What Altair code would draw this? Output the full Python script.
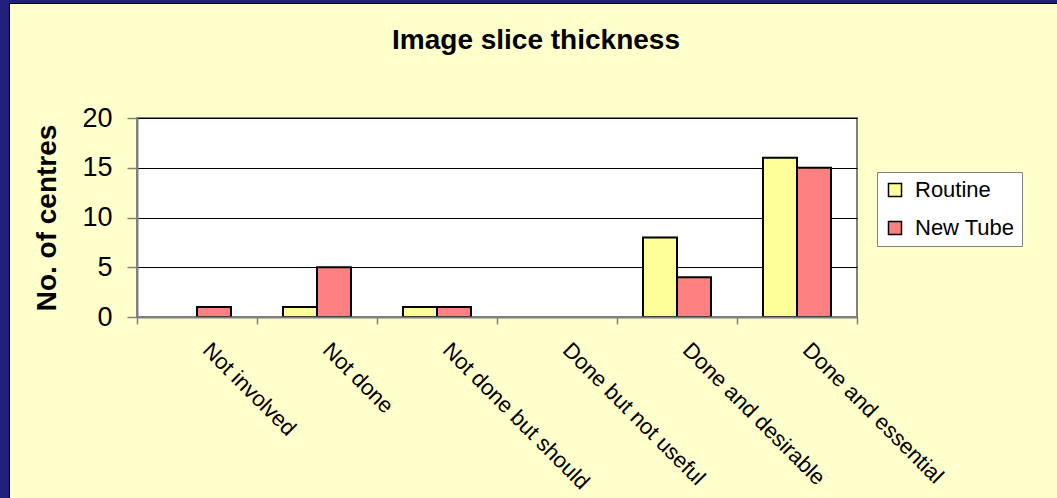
import altair as alt
import pandas as pd

categories = ["Not involved", "Not done", "Not done but should",
              "Done but not useful", "Done and desirable", "Done and essential"]
routine = [0, 1, 1, 0, 8, 16]
new_tube = [1, 5, 1, 0, 4, 15]
series = ["Routine", "New Tube"]
colors = ["#FFFF99", "#FF8080"]
y_ticks = [0, 5, 10, 15, 20]
title_text = "Image slice thickness"
y_title = "No. of centres"

rows = []
for c, r, n in zip(categories, routine, new_tube):
    rows.append({"category": c, "series": series[0], "value": r})
    rows.append({"category": c, "series": series[1], "value": n})
df = pd.DataFrame(rows)

W, H = 720, 199
PL, PT = 137, 118
CW, CH = 1057, 498
FONT = "Liberation Sans"
NAVY = "#20207A"

bars = alt.Chart(df).transform_filter("datum.value > 0").mark_bar(
    stroke="black", strokeWidth=2, opacity=1
).encode(
    x=alt.X("category:N", sort=categories,
            scale=alt.Scale(domain=categories, paddingInner=0, paddingOuter=0),
            axis=alt.Axis(title=None, labelAngle=45, labelAlign="left", labelBaseline="top",
                          labelFontSize=22, labelFont=FONT, labelColor="black",
                          labelOffset=16, labelPadding=15, labelLimit=0, labelOverlap=False,
                          tickSize=7, tickColor="#808080", tickWidth=1.5, tickBand="extent",
                          domainColor="#808080", domainWidth=2, grid=False, zindex=1)),
    xOffset=alt.XOffset("series:N", sort=series,
                        scale=alt.Scale(domain=series, paddingInner=0, paddingOuter=0.765)),
    y=alt.Y("value:Q", scale=alt.Scale(domain=[0, 20], nice=False),
            axis=alt.Axis(values=y_ticks, title=y_title, titleFontSize=28, titleFont=FONT,
                          titleFontWeight="bold", titleColor="black", titleX=-90, titleY=99.5,
                          titleAngle=270, titleAlign="center", titleBaseline="middle",
                          labelFontSize=27, labelFont=FONT, labelColor="black", labelPadding=15,
                          tickSize=10, tickColor="#808080", tickWidth=1.5,
                          domainColor="#808080", domainWidth=2,
                          grid=True, gridColor="black", gridWidth=1)),
    color=alt.Color("series:N", sort=series,
                    scale=alt.Scale(domain=series, range=colors),
                    legend=alt.Legend(title=None, orient="none", legendX=740, legendY=54,
                                      fillColor="white", strokeColor="#808080",
                                      padding=7, symbolType="square", symbolSize=169,
                                      symbolStrokeColor="black", symbolStrokeWidth=1.5,
                                      symbolOpacity=1, labelFontSize=22, labelFont=FONT,
                                      labelColor="black", labelOffset=9, rowPadding=16,
                                      cornerRadius=0)),
)

one = alt.Data(values=[{"k": 1}])

left_strip = alt.Chart(one).mark_rect(color=NAVY).encode(
    x=alt.value(-PL), x2=alt.value(-PL + 9), y=alt.value(-PT), y2=alt.value(CH - PT))
top_strip = alt.Chart(one).mark_rect(color=NAVY).encode(
    x=alt.value(-PL), x2=alt.value(CW - PL), y=alt.value(-PT), y2=alt.value(-PT + 3))
left_line = alt.Chart(one).mark_rect(color="black").encode(
    x=alt.value(-PL + 9), x2=alt.value(-PL + 10), y=alt.value(-PT + 3), y2=alt.value(CH - PT))
top_line = alt.Chart(one).mark_rect(color="black").encode(
    x=alt.value(-PL + 9), x2=alt.value(CW - PL), y=alt.value(-PT + 3), y2=alt.value(-PT + 4))

title = alt.Chart(one).mark_text(
    text=title_text, font=FONT, fontSize=28, fontWeight="bold",
    align="center", baseline="alphabetic", color="black"
).encode(x=alt.value(536 - PL), y=alt.value(49 - PT))

chart = alt.layer(bars, left_strip, top_strip, left_line, top_line, title).properties(
    width=W, height=H,
    padding={"left": PL, "top": PT, "right": CW - PL - W, "bottom": CH - PT - H},
    autosize=alt.AutoSizeParams(type="none"),
    background="#FFFFCC",
).configure_view(fill="white", stroke="#808080", strokeWidth=2)

chart.save("out.html", embed_options={"renderer": "svg", "actions": False})
